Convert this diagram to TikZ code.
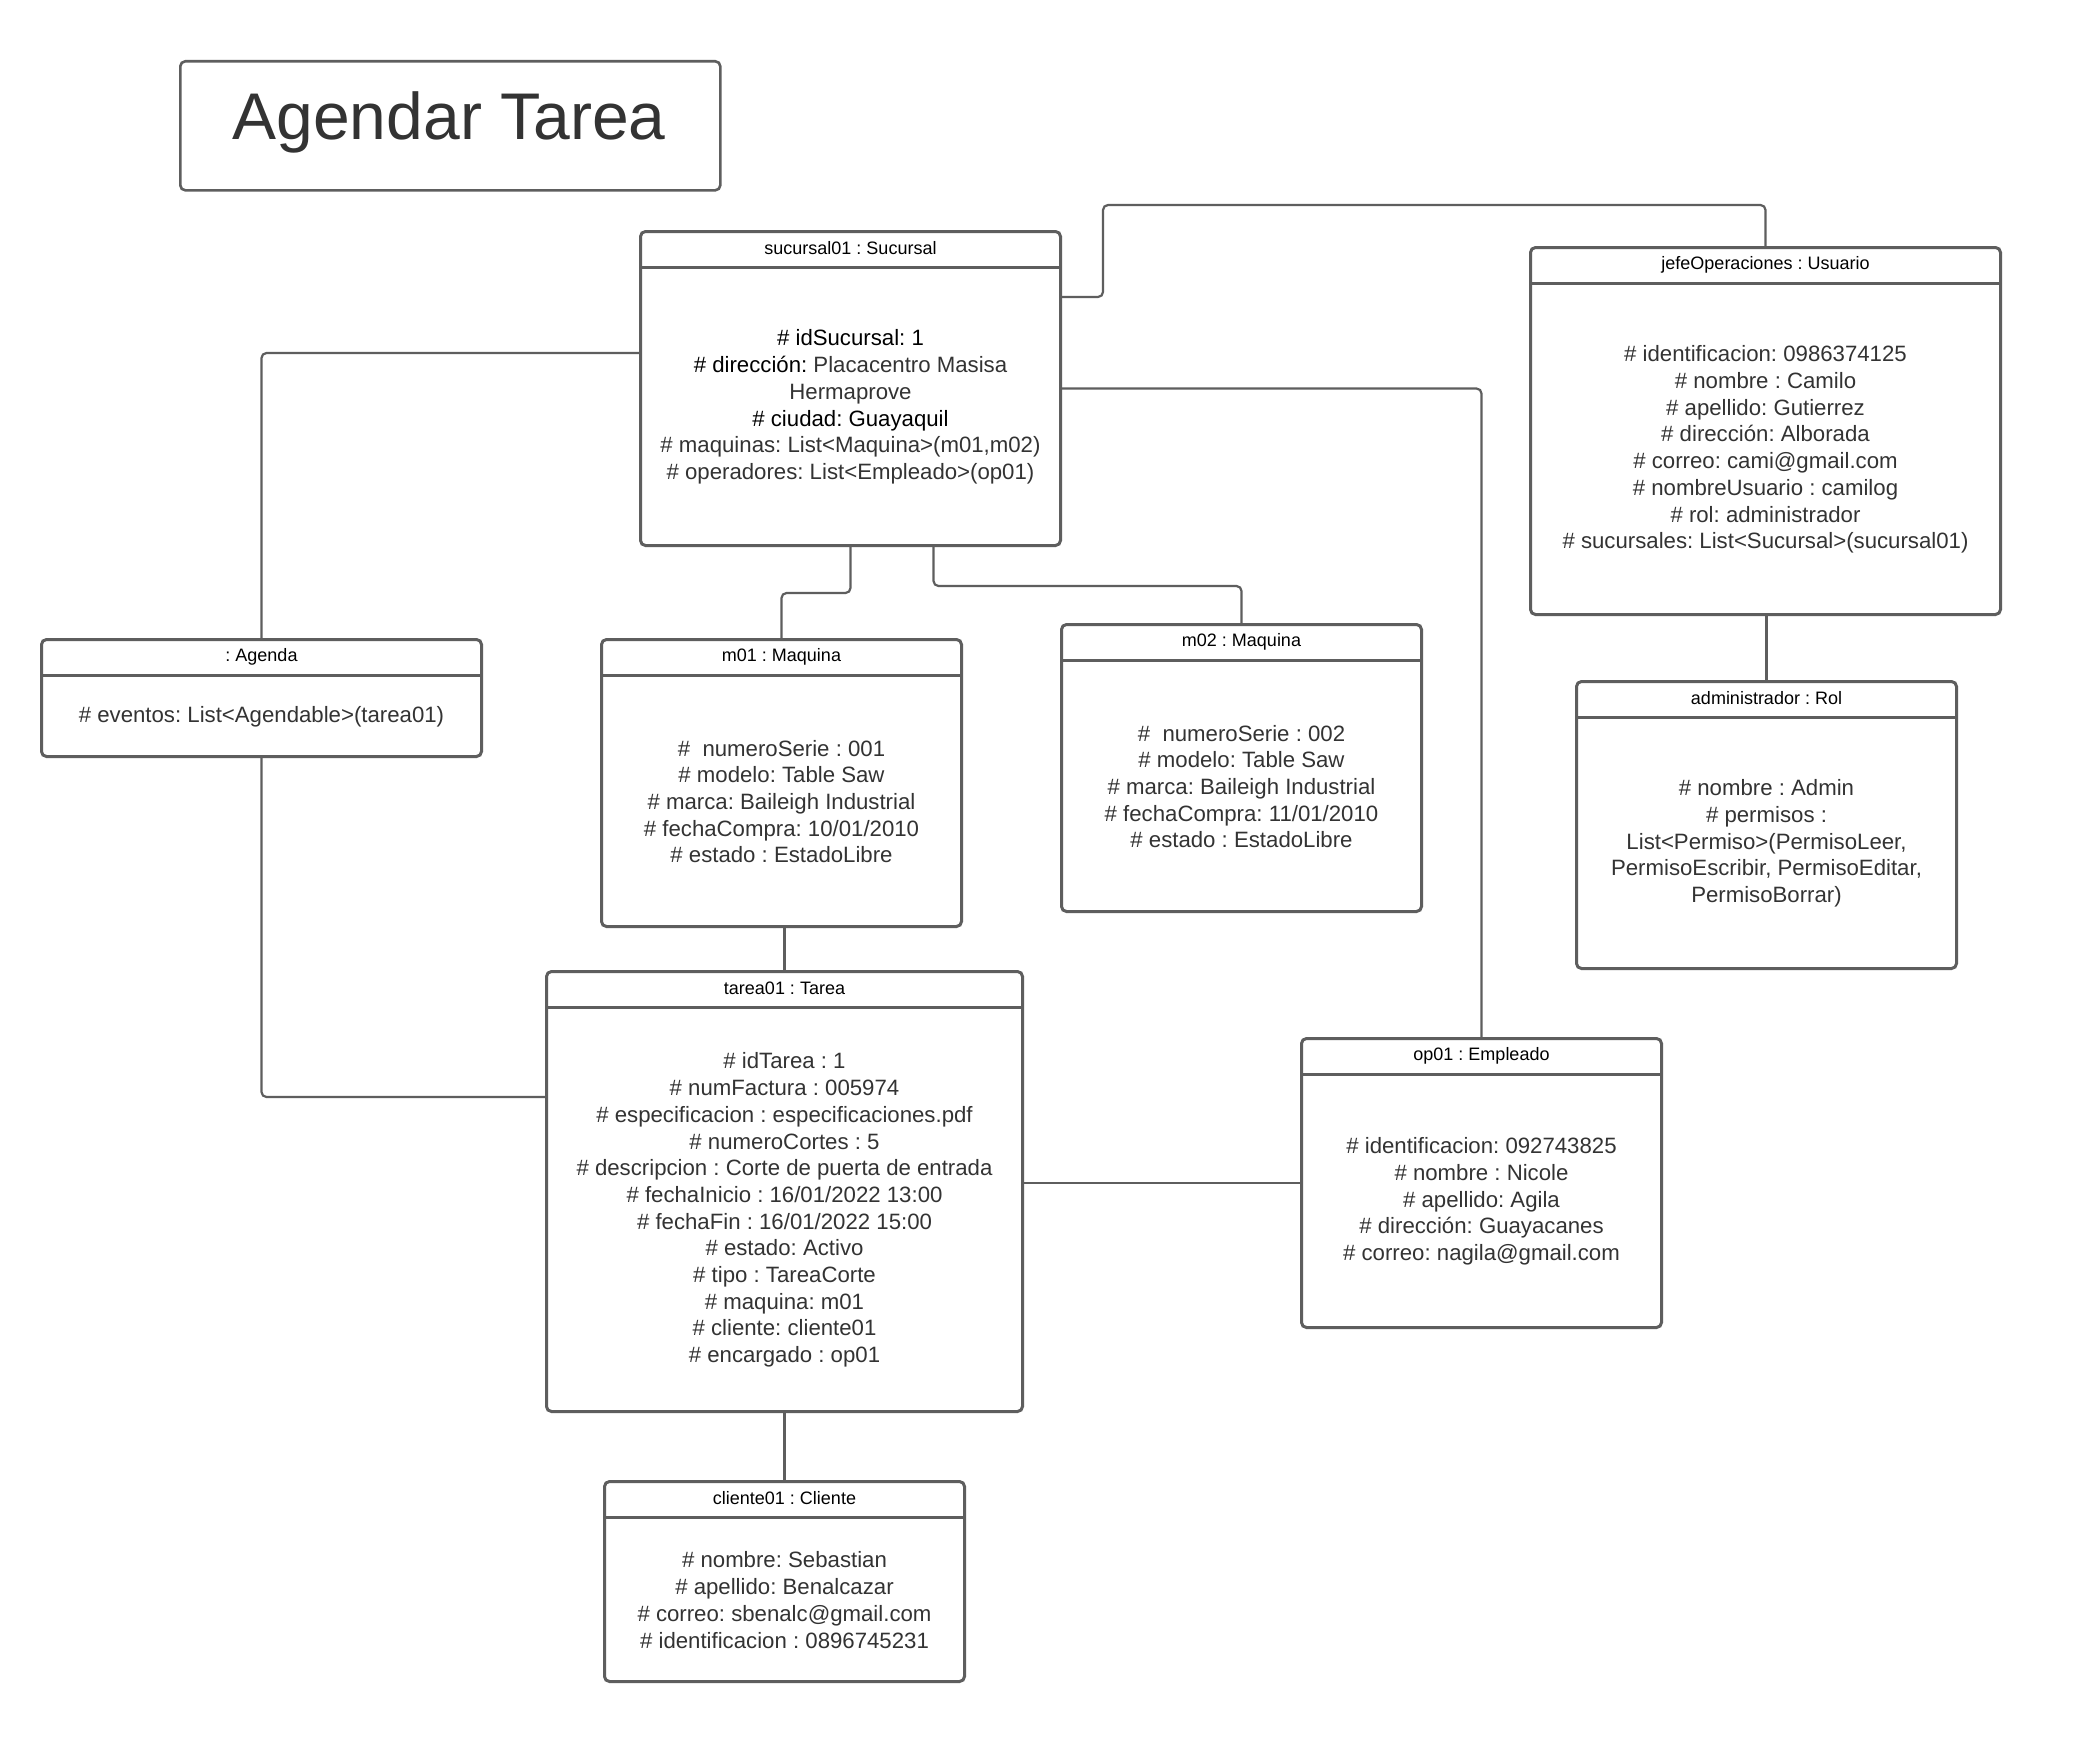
\documentclass[tikz,border=0pt]{standalone}
\usepackage{fontspec}
\setmainfont{Liberation Sans}
\usetikzlibrary{calc}
\frenchspacing
\definecolor{lineC}{RGB}{94,94,94}
\definecolor{txtC}{RGB}{51,51,51}
\tikzset{
  obj/.style={draw=lineC, line width=3pt, rounded corners=5pt, fill=white, inner sep=0pt},
  div/.style={draw=lineC, line width=3pt},
  hdr/.style={font=\fontsize{18}{21.6}\selectfont, text=black, inner sep=0pt},
  bdy/.style={font=\fontsize{22.2}{26.7}\selectfont, text=txtC, align=center, inner sep=0pt},
  conn/.style={draw=lineC, line width=2.2pt, rounded corners=5pt},
  titlebox/.style={draw=lineC, line width=2.6pt, rounded corners=5pt, inner sep=0pt}
}
\newcommand\objbox[7]{%
  \node[obj, minimum width=#4pt, minimum height=#5pt, anchor=north west] (#1) at (#2,#3) {};
  \draw[div] ([yshift=-37pt]#1.north west) -- ([yshift=-37pt]#1.north east);
  \node[hdr] (#1-h) at ([yshift=-18.5pt]#1.north) {#6};
  \node[bdy] (#1-b) at ($([yshift=-37pt]#1.north)!0.5!(#1.south)$) {#7};
}
\begin{document}
\frenchspacing
\begin{tikzpicture}[x=1pt,y=-1pt]
\fill[white] (0,0) rectangle (2091,1745);
\useasboundingbox (0,0) rectangle (2091,1745);

% title
\node[titlebox, minimum width=540pt, minimum height=129pt, anchor=north west] (title) at (179,60) {};
\node[font=\fontsize{66}{79}\selectfont, text=txtC, inner sep=0pt, anchor=base] (title-t) at (449,139) {Agendar Tarea};

% boxes
\objbox{suc}{639}{230}{420}{314}{sucursal01 : Sucursal}{%
  {\color{black}\# idSucursal: 1}\\
  {\color{black}\# dirección:} Placacentro Masisa\\
  Hermaprove\\
  {\color{black}\# ciudad: Guayaquil}\\
  \# maquinas: List<Maquina>(m01,m02)\\
  \# operadores: List<Empleado>(op01)}

\objbox{jefe}{1529}{246}{470}{367}{jefeOperaciones : Usuario}{%
  \# identificacion: 0986374125\\
  \# nombre : Camilo\\
  \# apellido: Gutierrez\\
  \# dirección: Alborada\\
  \# correo: cami@gmail.com\\
  \# nombreUsuario : camilog\\
  \# rol: administrador\\
  \# sucursales: List<Sucursal>(sucursal01)}

\objbox{agenda}{40}{638}{440}{117}{: Agenda}{%
  \# eventos: List<Agendable>(tarea01)}

\objbox{m01}{600}{638}{360}{287}{m01 : Maquina}{%
  \#\ \ numeroSerie : 001\\
  \# modelo: Table Saw\\
  \# marca: Baileigh Industrial\\
  \# fechaCompra: 10/01/2010\\
  \# estado : EstadoLibre}

\objbox{m02}{1060}{623}{360}{287}{m02 : Maquina}{%
  \#\ \ numeroSerie : 002\\
  \# modelo: Table Saw\\
  \# marca: Baileigh Industrial\\
  \# fechaCompra: 11/01/2010\\
  \# estado : EstadoLibre}

\objbox{adm}{1575}{680}{380}{287}{administrador : Rol}{%
  \# nombre : Admin\\
  \# permisos :\\
  List<Permiso>(PermisoLeer,\\
  PermisoEscribir, PermisoEditar,\\
  PermisoBorrar)}

\objbox{tarea}{545}{970}{476}{440}{tarea01 : Tarea}{%
  \# idTarea : 1\\
  \# numFactura : 005974\\
  \# especificacion : especificaciones.pdf\\
  \# numeroCortes : 5\\
  \# descripcion : Corte de puerta de entrada\\
  \# fechaInicio : 16/01/2022 13:00\\
  \# fechaFin : 16/01/2022 15:00\\
  \# estado: Activo\\
  \# tipo : TareaCorte\\
  \# maquina: m01\\
  \# cliente: cliente01\\
  \# encargado : op01}

\objbox{op}{1300}{1037}{360}{289}{op01 : Empleado}{%
  \# identificacion: 092743825\\
  \# nombre : Nicole\\
  \# apellido: Agila\\
  \# dirección: Guayacanes\\
  \# correo: nagila@gmail.com}

\objbox{cli}{603}{1480}{360}{200}{cliente01 : Cliente}{%
  \# nombre: Sebastian\\
  \# apellido: Benalcazar\\
  \# correo: sbenalc@gmail.com\\
  \# identificacion : 0896745231}

% connectors
\draw[conn] ([yshift=-67pt]suc.north east) -- ++(41,0) |- ([yshift=41pt]jefe.north) -- (jefe.north);
\draw[conn] ([yshift=-123pt]suc.north west) -| (agenda.north);
\draw[conn] (suc.east) -| (op.north);
\draw[conn] (suc.south) -- ++(0,46) -| (m01.north);
\draw[conn] ([xshift=83pt]suc.south) -- ++(0,39) -| (m02.north);
\draw[conn] (tarea.north |- m01.south) -- (tarea.north);
\draw[conn] (agenda.south) |- ([yshift=-127pt]tarea.north west);
\draw[conn] (op.west -| tarea.east) -- (op.west);
\draw[conn] (cli.north |- tarea.south) -- (cli.north);
\draw[conn] (adm.north |- jefe.south) -- (adm.north);
\end{tikzpicture}
\end{document}
